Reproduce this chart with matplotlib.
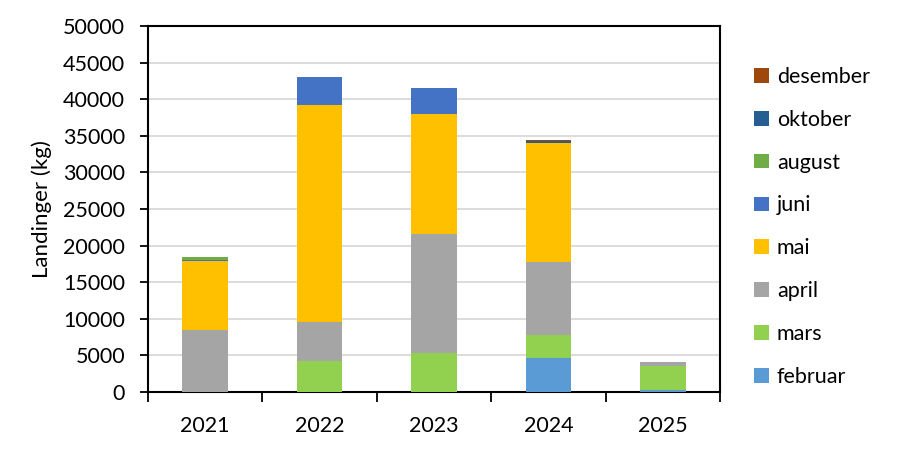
import matplotlib
matplotlib.use("Agg")
import matplotlib.pyplot as plt
import numpy as np

# Landinger per år, fordelt på måned (kg)
years = ["2021", "2022", "2023", "2024", "2025"]
months = ["februar", "mars", "april", "mai", "juni", "august", "oktober", "desember"]
februar = [0, 0, 0, 4700, 300]
mars = [0, 4300, 5300, 3100, 3300]
april = [8500, 5200, 16300, 9900, 500]
mai = [9400, 29700, 16400, 16350, 0]
juni = [150, 3800, 3500, 0, 0]
august = [400, 0, 0, 0, 0]
oktober = [0, 0, 0, 230, 0]
desember = [0, 0, 0, 140, 0]
series = [februar, mars, april, mai, juni, august, oktober, desember]
colors = ["#5b9bd5", "#92d050", "#a5a5a5", "#ffc000", "#4472c4", "#70ad47", "#255e91", "#9e480e"]

plt.rcParams['font.family'] = ['Lato', 'DejaVu Sans']
fs = 15.5

fig = plt.figure(figsize=(8.98, 4.53), dpi=100)
ax = fig.add_axes([148 / 898, 61 / 453, 572 / 898, 366 / 453])

x = np.arange(len(years))
bottom = np.zeros(len(years))
handles = []
for name, vals, col in zip(months, series, colors):
    b = ax.bar(x, vals, width=0.4, bottom=bottom, color=col, label=name, zorder=3)
    bottom += np.array(vals)
    handles.append(b)

ax.set_xlim(-0.5, len(years) - 0.5)
ax.set_ylim(0, 50000)
ax.set_yticks(np.arange(0, 50001, 5000))
ax.tick_params(axis='y', labelsize=fs, length=6, width=1.3, direction='out', pad=10.5)
ax.yaxis.grid(True, color="#d9d9d9", linewidth=1.3, zorder=0)
ax.set_axisbelow(True)

# kategorigrenser som hovedmerker, årstall som mindre merker
ax.set_xticks(np.arange(-0.5, len(years), 1.0))
ax.set_xticklabels([])
ax.set_xticks(x, minor=True)
ax.set_xticklabels(years, minor=True)
ax.tick_params(axis='x', which='major', length=7, width=1.3, direction='out')
ax.tick_params(axis='x', which='minor', length=0, labelsize=fs, pad=17)

for s in ax.spines.values():
    s.set_linewidth(1.5)
    s.set_color("black")

ax.set_ylabel("Landinger (kg)", fontsize=fs + 0.5, labelpad=8)

fig.legend(handles[::-1], months[::-1], loc='upper left',
           bbox_to_anchor=(754 / 898, 1 - 67 / 453), frameon=False,
           fontsize=fs, labelspacing=1.06, handlelength=0.68, handleheight=0.68,
           handletextpad=0.38, borderpad=0, borderaxespad=0)

fig.savefig("out.png", dpi=100)
